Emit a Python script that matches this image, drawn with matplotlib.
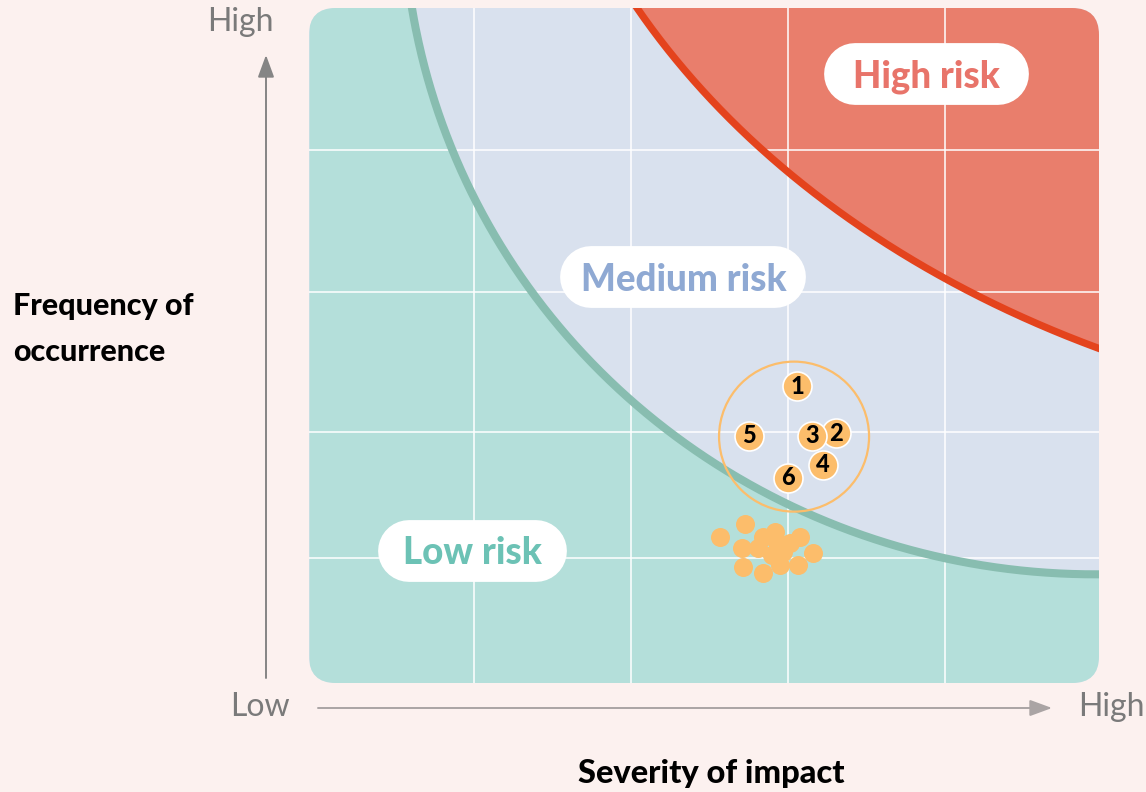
import numpy as np
import matplotlib
matplotlib.use("Agg")
import matplotlib.pyplot as plt
from matplotlib.patches import FancyBboxPatch

plt.rcParams['font.family'] = ['Lato', 'DejaVu Sans']

# risk points (severity, frequency) on a 0-10 scale
num_labels = ['1', '2', '3', '4', '5', '6']
num_x = [6.18, 6.67, 6.37, 6.51, 5.57, 6.06]
num_y = [4.40, 3.70, 3.66, 3.23, 3.66, 3.04]

cluster_x = [5.20, 5.52, 5.48, 5.49, 5.75, 5.90, 5.75, 5.96, 6.22, 6.38,
             6.19, 6.09, 5.86, 5.68, 6.00, 5.92]
cluster_y = [2.16, 2.36, 2.00, 1.72, 2.16, 2.24, 1.63, 1.75, 2.16, 1.93,
             1.75, 2.07, 1.90, 2.00, 1.94, 2.09]

group_center = (6.14, 3.65)

grid_x = [2.09, 4.08, 6.06, 8.05]
grid_y = [1.85, 3.72, 5.79, 7.90]

# boundary curves: quarter ellipses (cx, cy, a, b)
low_curve = (9.95, 11.6, 8.76, 9.99)
high_curve = (15.71, 15.30, 13.02, 11.51)

bg = '#fcf1ef'
teal = '#b4dfda'
blue = '#d9e1ee'
red_fill = '#e97e6c'
orange = '#fcbd6b'


def ellipse_y(x, c):
    cx, cy, a, b = c
    t = 1 - ((x - cx) / a) ** 2
    y = np.full_like(x, np.nan)
    ok = t >= 0
    y[ok] = cy - b * np.sqrt(t[ok])
    return y


fig = plt.figure(figsize=(11.46, 7.92), dpi=100, facecolor=bg)
W, H = 1146, 792
ax = fig.add_axes([309 / W, 1 - 683 / H, 790 / W, 675 / H])
ax.set_xlim(0, 10)
ax.set_ylim(0, 10)
ax.axis('off')

# rounded plot area
r = 27 / 790
panel = FancyBboxPatch((0, 0), 1, 1, boxstyle='round,pad=0,rounding_size=%f' % r,
                       mutation_aspect=790 / 675, transform=ax.transAxes,
                       facecolor=blue, edgecolor='none', zorder=0)
ax.add_patch(panel)

x = np.linspace(0, 10, 800)
g = ellipse_y(x, low_curve)
h = ellipse_y(x, high_curve)
g_fill = np.where(np.isnan(g), 10, np.minimum(g, 10))
h_fill = np.where(np.isnan(h), 10, np.minimum(h, 10))

arts = []
arts.append(ax.fill_between(x, 0, g_fill, color=teal, lw=0, zorder=1))
arts.append(ax.fill_between(x, h_fill, 10, color=red_fill, lw=0, zorder=1))

for gx in grid_x:
    arts.append(ax.axvline(gx, color='white', lw=1.1, zorder=2))
for gy in grid_y:
    arts.append(ax.axhline(gy, color='white', lw=1.1, zorder=2))

arts += ax.plot(x, g, color='#88bdb0', lw=5.8, zorder=3)
arts += ax.plot(x, h, color='#e4431d', lw=5.2, zorder=3)

for a in arts:
    a.set_clip_path(panel)

# zone labels as white pills
labels = [('High risk', 7.82, 9.02, 0.905, '#e8746a'),
          ('Medium risk', 4.74, 6.01, 1.165, '#8fa9d3'),
          ('Low risk', 2.07, 1.96, 0.80, '#6cc2b5')]
for txt, lx, ly, half, col in labels:
    ax.plot([lx - half, lx + half], [ly, ly], color='white', lw=44.5,
            solid_capstyle='round', zorder=4)
    ax.text(lx, ly - 0.04, txt, color=col, fontsize=26.5, fontweight='black',
            ha='center', va='center', zorder=5)

# points
ax.scatter(cluster_x, cluster_y, s=187, color=orange, lw=0, zorder=5)
ax.scatter([group_center[0]], [group_center[1]], s=11664, facecolor='none',
           edgecolor=orange, lw=1.6, zorder=5)
ax.scatter(num_x, num_y, s=436, color=orange, edgecolor='white', lw=1.2, zorder=6)
for lab, nx, ny in zip(num_labels, num_x, num_y):
    ax.text(nx, ny, lab, fontsize=17, fontweight='black', color='black',
            ha='center', va='center', zorder=7)

# axis arrows and end labels
ax.annotate('', xy=(266, H - 55), xytext=(266, H - 678), xycoords='figure pixels',
            textcoords='figure pixels',
            arrowprops=dict(arrowstyle='-|>,head_length=0.68,head_width=0.25',
                            mutation_scale=20, color='#858585', lw=1.4,
                            shrinkA=0, shrinkB=0))
ax.annotate('', xy=(1052, H - 708), xytext=(318, H - 708), xycoords='figure pixels',
            textcoords='figure pixels',
            arrowprops=dict(arrowstyle='-|>,head_length=0.68,head_width=0.25',
                            mutation_scale=20, color='#aaa4a4', lw=1.4,
                            shrinkA=0, shrinkB=0))

gray = '#7a7a7a'
fig.text(240 / W, 1 - 22 / H, 'High', fontsize=23, color=gray, ha='center', va='center')
fig.text(260 / W, 1 - 707 / H, 'Low', fontsize=23, color=gray, ha='center', va='center')
fig.text(1111 / W, 1 - 707 / H, 'High', fontsize=23, color=gray, ha='center', va='center')

fig.text(13 / W, 1 - 329 / H, 'Frequency of\noccurrence', fontsize=22,
         fontweight='black', color='black', ha='left', va='center', linespacing=1.75)
fig.text(711 / W, 1 - 773 / H, 'Severity of impact', fontsize=23.5,
         fontweight='black', color='black', ha='center', va='center')

fig.savefig('out.png', dpi=100, facecolor=bg)
